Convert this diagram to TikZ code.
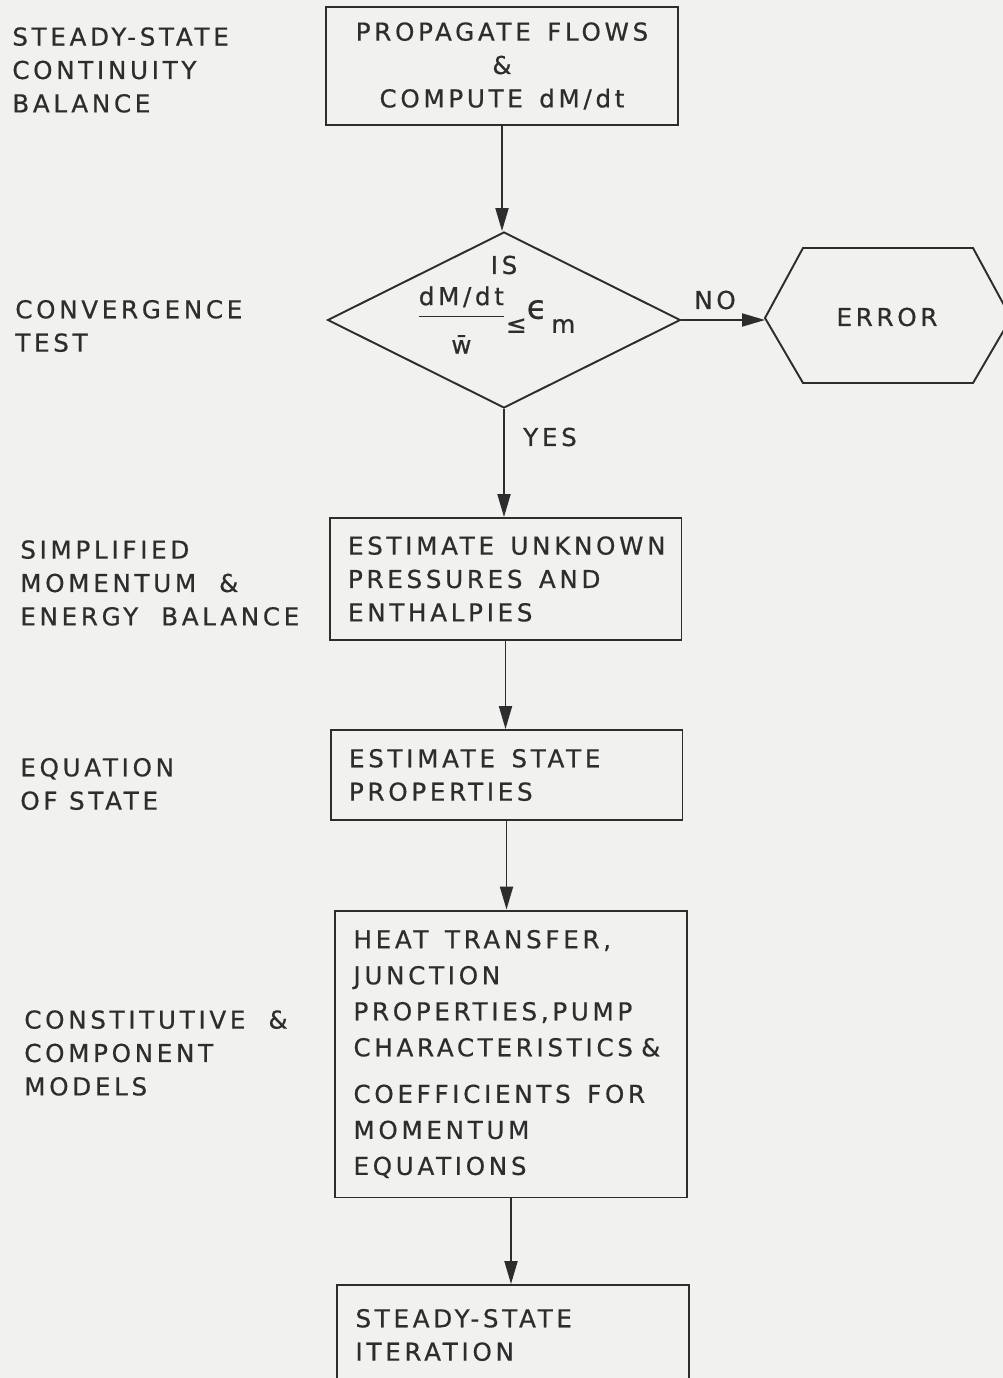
\documentclass[tikz,border=0pt]{standalone}
\usepackage{fontspec}
\setmainfont{DejaVu Sans}[LetterSpace=15,FakeBold=0.6]
\usetikzlibrary{shapes.geometric,arrows.meta}
\definecolor{paper}{RGB}{241,241,239}
\definecolor{ink}{RGB}{45,45,45}
\begin{document}
\begin{tikzpicture}[x=0.02cm,y=-0.02cm, every node/.style={font=\fontsize{14}{19}\selectfont,text=ink},
  blk/.style={draw=ink,line width=1.1pt,align=left,text width=6.3cm,inner xsep=0.37cm,inner ysep=0pt},
  lbl/.style={anchor=west,align=left,inner sep=0pt},
  flow/.style={draw=ink,line width=1.1pt,-{Triangle[length=0.46cm,width=0.26cm]}}]
\useasboundingbox[fill=paper] (0,0) rectangle (1003,1378);
\node[blk,align=center,minimum height=2.36cm] (prop) at (502,66) {PROPAGATE\ \ FLOWS\\\&\\COMPUTE\ \ dM/dt};
\node[lbl] (l1) at (12,70) {STEADY-STATE\\CONTINUITY\\BALANCE};
\node[diamond,draw=ink,line width=1.1pt,minimum width=7.06cm,minimum height=3.52cm,inner sep=0pt] (test) at (504,320) {};
\node (is) at (504,265) {IS};
\node (ratio) at (496,320) {$\displaystyle\frac{\hbox{dM/dt}}{\rule{0pt}{20pt}\hbox{w̄}}$\raisebox{-6pt}{≤}\raisebox{2pt}{\fontsize{19}{19}\selectfont ϵ}\,\raisebox{-6pt}{m}};
\node[lbl] (l2) at (15,326) {CONVERGENCE\\TEST};
\coordinate (errL) at (765,318);
\draw[ink,line width=1.1pt] (errL) -- (803,248) -- (973,248) -- (1011,318) -- (973,383) -- (803,383) -- cycle;
\node (error) at (887,317) {ERROR};
\node (no) at (715,300) {NO};
\node (yes) at (550,437) {YES};
\node[blk,minimum height=2.44cm] (est) at (505.5,579) {\mbox{ESTIMATE\ \ UNKNOWN}\\PRESSURES\ \ AND\\ENTHALPIES};
\node[lbl] (l3) at (20,583) {SIMPLIFIED\\MOMENTUM\ \ \&\\ENERGY\ \ BALANCE};
\node[blk,minimum height=1.8cm] (state) at (506.5,775) {ESTIMATE\ \ STATE\\PROPERTIES};
\node[lbl] (l4) at (20,784) {EQUATION\\OF STATE};
\node[blk,minimum height=5.74cm,font=\fontsize{14}{20.5}\selectfont] (models) at (511,1054) {HEAT\ \ TRANSFER,\\JUNCTION\\PROPERTIES,PUMP\\\mbox{CHARACTERISTICS\ \&}\\[6pt]\mbox{COEFFICIENTS\ \ FOR}\\MOMENTUM\\EQUATIONS};
\node[lbl] (l5) at (24,1053) {CONSTITUTIVE\ \ \&\\COMPONENT\\MODELS};
\node[blk,minimum height=2cm] (iter) at (513,1335) {STEADY-STATE\\ITERATION};
\draw[flow] (prop.south) -- (prop.south |- test.north);
\draw[flow] (test.east) -- (test.east -| errL);
\draw[flow] (test.south) -- (test.south |- est.north);
\draw[flow] (est.south) -- (est.south |- state.north);
\draw[flow] (state.south) -- (state.south |- models.north);
\draw[flow] (models.south) -- (models.south |- iter.north);
\end{tikzpicture}
\end{document}
